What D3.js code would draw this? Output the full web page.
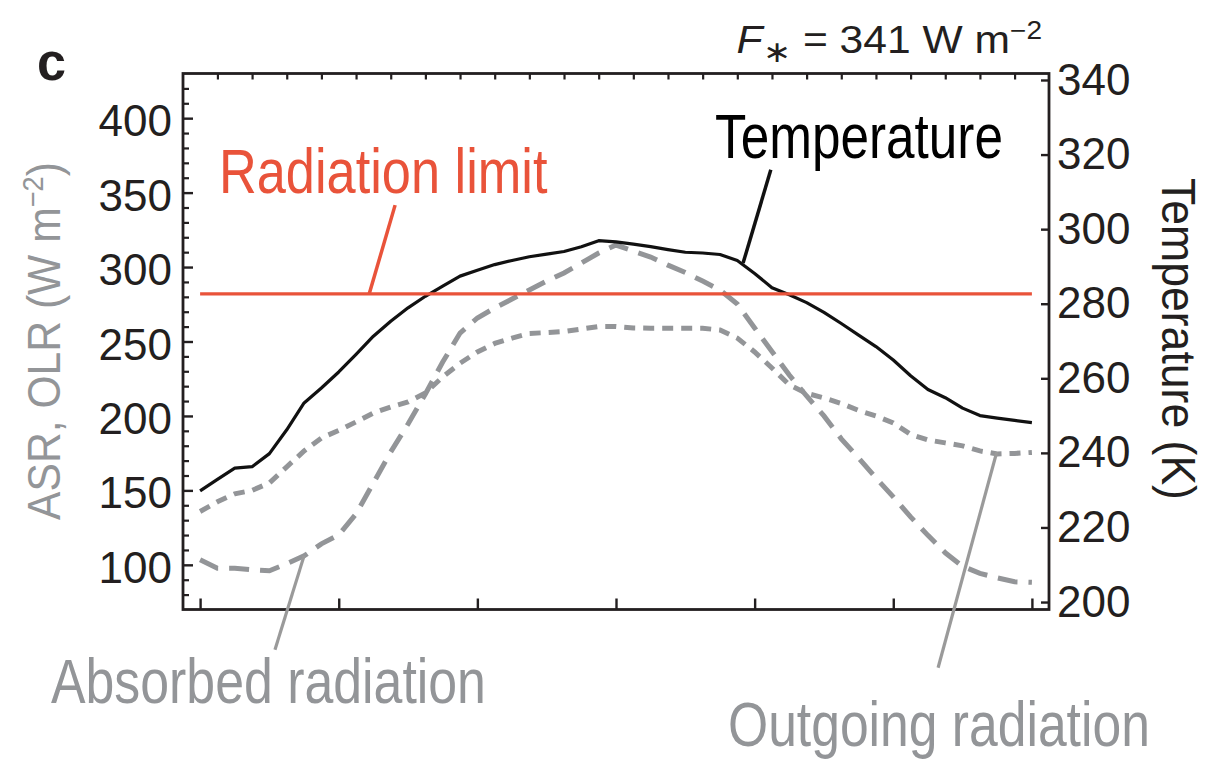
<!DOCTYPE html>
<html><head><meta charset="utf-8">
<script src="https://cdn.jsdelivr.net/npm/d3@7"></script>
<style>
body{margin:0;background:#fff}
svg{display:block}
text{font-family:"Liberation Sans",Arial,Helvetica,sans-serif}
</style>
</head><body>
<svg id="chart" width="1228" height="761"></svg>
<script>
// ---- data (latitude, degrees) ----
const latitude = [-90, -86.25, -82.5, -78.75, -75, -71.25, -67.5, -63.75, -60, -56.25, -52.5, -48.75, -45, -41.25, -37.5, -33.75, -30, -26.25, -22.5, -18.75, -15, -11.25, -7.5, -3.75, 0, 3.75, 7.5, 11.25, 15, 18.75, 22.5, 26.25, 30, 33.75, 37.5, 41.25, 45, 48.75, 52.5, 56.25, 60, 63.75, 67.5, 71.25, 75, 78.75, 82.5, 86.25, 90];
// Temperature (K), right axis
const temperature = [229.8, 232.9, 235.9, 236.3, 239.8, 246.2, 253.4, 257.4, 261.7, 266.4, 271.3, 275.3, 278.9, 282.0, 284.7, 287.4, 289.0, 290.5, 291.6, 292.6, 293.3, 294.0, 295.3, 296.9, 296.6, 296.0, 295.3, 294.5, 293.8, 293.6, 293.2, 291.6, 288.1, 284.3, 282.4, 280.3, 277.7, 274.7, 271.6, 268.5, 264.9, 260.7, 257.0, 254.8, 252.0, 250.0, 249.3, 248.7, 248.1];
// Absorbed solar radiation (W m-2), left axis
const absorbed = [103.4, 97.7, 97.7, 96.6, 96.0, 100.8, 106.0, 114.1, 120.1, 134.2, 155.0, 175.8, 194.6, 214.8, 236.2, 255.7, 265.8, 272.5, 278.5, 284.6, 290.6, 296.0, 302.7, 309.4, 314.8, 310.7, 306.7, 301.3, 296.3, 290.6, 284.6, 275.2, 259.1, 243.3, 227.5, 213.4, 200.0, 184.6, 171.8, 158.4, 145.6, 132.2, 119.8, 108.1, 99.0, 94.3, 91.3, 88.6, 88.3];
// Outgoing longwave radiation (W m-2), left axis
const outgoing = [135.8, 142.3, 147.7, 150.0, 155.0, 165.8, 176.5, 185.2, 190.3, 196.0, 202.0, 206.0, 209.4, 215.4, 226.2, 235.4, 243.0, 248.7, 252.3, 255.4, 256.0, 256.7, 258.4, 260.1, 260.1, 259.1, 258.9, 258.9, 258.9, 258.9, 257.7, 252.3, 243.0, 232.2, 220.8, 215.2, 212.1, 208.4, 203.7, 200.0, 195.3, 187.6, 183.9, 181.9, 179.9, 176.5, 174.5, 174.8, 175.5];
const radiationLimit = 282;
const latRange = [-90, 90];

// ---- ticks ----
const leftMajorTicks = [100, 150, 200, 250, 300, 350, 400];
const leftMinorTicks = [80, 90, 110, 120, 130, 140, 160, 170, 180, 190, 210, 220, 230, 240, 260, 270, 280, 290, 310, 320, 330, 340, 360, 370, 380, 390, 410, 420];
const rightTicks = [200, 220, 240, 260, 280, 300, 320, 340];
const bottomTicks = [-90, -60, -30, 0, 30, 60, 90];
const topTicks = [-86.25, -78.75, -71.25, -63.75, -56.25, -48.75, -41.25, -33.75, -26.25, -18.75, -11.25, -3.75, 3.75, 11.25, 18.75, 26.25, 33.75, 41.25, 48.75, 56.25, 63.75, 71.25, 78.75, 86.25];

// ---- annotation leader lines (data units) ----
const limitLeader = [[-53.4, 282], [-47.8, 341.6]];      // left axis units
const tempLeader = [[27.5, 290.9], [33.5, 315.9]];       // right axis units
const absorbedLeader = [[-67.5, 106], [-73.8, 43]];      // left axis units
const outgoingLeader = [[82.4, 175.8], [69.7, 30.9]];    // left axis units

// ---- layout ----
const L = 183, R = 1049, T = 73.5, B = 609.5;
const ink = "#231f20", gray = "#939598", red = "#e9533a";

const svg = d3.select("#chart");
const x = d3.scaleLinear().domain([-93.7, 93.7]).range([L, R]);
const yL = d3.scaleLinear().domain([70, 430]).range([B, T]);
const yR = d3.scaleLinear().domain([198, 341.74]).range([B, T]);

function styleAxis(g, w) {
  g.select(".domain").remove();
  g.selectAll(".tick line").attr("stroke", ink).attr("stroke-width", w);
  g.selectAll(".tick text").attr("fill", ink).style("font-size", "44px")
    .style("font-family", '"Liberation Sans",Arial,Helvetica,sans-serif');
}

// left axis major
const gL = svg.append("g").attr("transform", `translate(${L},0)`)
  .call(d3.axisLeft(yL).tickValues(leftMajorTicks).tickSizeInner(-10).tickSizeOuter(0).tickPadding(11));
styleAxis(gL, 2.4);
gL.selectAll(".tick text").attr("dy", "0.40em");
// left minor
const gLm = svg.append("g").attr("transform", `translate(${L},0)`)
  .call(d3.axisLeft(yL).tickValues(leftMinorTicks).tickSizeInner(-6).tickSizeOuter(0).tickFormat(""));
styleAxis(gLm, 2.2);

// right axis
const gR = svg.append("g").attr("transform", `translate(${R},0)`)
  .call(d3.axisRight(yR).tickValues(rightTicks).tickSizeInner(-8).tickSizeOuter(0).tickPadding(8));
styleAxis(gR, 2.4);
gR.selectAll(".tick text").attr("dy", "0.32em");

// top ticks
const gT = svg.append("g").attr("transform", `translate(0,${T})`)
  .call(d3.axisBottom(x).tickValues(topTicks).tickSizeInner(6).tickSizeOuter(0).tickFormat(""));
styleAxis(gT, 2.2);
// bottom ticks
const gB = svg.append("g").attr("transform", `translate(0,${B})`)
  .call(d3.axisTop(x).tickValues(bottomTicks).tickSizeInner(11).tickSizeOuter(0).tickFormat(""));
styleAxis(gB, 2.4);

// frame
svg.append("rect").attr("x", L).attr("y", T).attr("width", R - L).attr("height", B - T)
  .attr("fill", "none").attr("stroke", ink).attr("stroke-width", 2.8);

// series
const lineL = vals => d3.line().x((d, i) => x(latitude[i])).y(d => yL(d))(vals);
const lineR = vals => d3.line().x((d, i) => x(latitude[i])).y(d => yR(d))(vals);

svg.append("path").attr("d", lineL(outgoing)).attr("fill", "none")
  .attr("stroke", gray).attr("stroke-width", 5).attr("stroke-dasharray", "11,8");
svg.append("path").attr("d", lineL(absorbed)).attr("fill", "none")
  .attr("stroke", gray).attr("stroke-width", 5).attr("stroke-dasharray", "20,11");
svg.append("path").attr("d", lineR(temperature)).attr("fill", "none")
  .attr("stroke", "#111").attr("stroke-width", 3.2).attr("stroke-linejoin", "round");
svg.append("line").attr("x1", x(latRange[0])).attr("x2", x(latRange[1]))
  .attr("y1", yL(radiationLimit)).attr("y2", yL(radiationLimit))
  .attr("stroke", red).attr("stroke-width", 3.2);

// leader lines
function leader(pts, ys, color, w) {
  svg.append("line").attr("x1", x(pts[0][0])).attr("y1", ys(pts[0][1]))
    .attr("x2", x(pts[1][0])).attr("y2", ys(pts[1][1]))
    .attr("stroke", color).attr("stroke-width", w);
}
leader(limitLeader, yL, red, 3.5);
leader(tempLeader, yR, "#111", 3.5);
leader(absorbedLeader, yL, "#9a9a9a", 3.2);
leader(outgoingLeader, yL, "#9a9a9a", 3.2);

// text helper: fit natural width to a target width via horizontal scale
function label(txt, px, py, size, color, width, opts = {}) {
  const g = svg.append("g");
  const t = g.append("text").attr("x", 0).attr("y", 0)
    .attr("fill", color).style("font-size", size + "px")
    .attr("text-anchor", opts.anchor || "start")
    .style("font-weight", opts.bold ? "bold" : "normal");
  if (typeof txt === "function") txt(t); else t.text(txt);
  const w = t.node().getBBox().width;
  const sx = width ? width / w : 1;
  g.attr("transform", `translate(${px},${py}) rotate(${opts.rotate || 0}) scale(${sx},1)`);
  return t;
}

label("c", 37, 80, 52, ink, 29, {bold: true});
label(t => {
  t.append("tspan").style("font-style", "italic").text("F");
  t.append("tspan").attr("dy", 9).style("font-size", "30px").text("\u2217");
  t.append("tspan").attr("dy", -9).text(" = 341 W m");
  t.append("tspan").attr("dy", -14).style("font-size", "25px").text("\u22122");
}, 1042, 53, 38, ink, 305, {anchor: "end"});

label("Radiation limit", 219, 193, 63, red, 329);
label("Temperature", 715, 158, 63, "#000", 288);
label("Absorbed radiation", 51, 703, 63, gray, 435);
label("Outgoing radiation", 728, 746, 63, gray, 422);

label(t => {
  t.append("tspan").text("ASR, OLR (W m");
  t.append("tspan").attr("dy", -17).style("font-size", "30px").text("\u22122");
  t.append("tspan").attr("dy", 17).text(")");
}, 60, 341, 47, gray, 358, {anchor: "middle", rotate: -90});

label("Temperature (K)", 1162, 339, 48, ink, 322, {anchor: "middle", rotate: 90});
</script>
</body></html>
